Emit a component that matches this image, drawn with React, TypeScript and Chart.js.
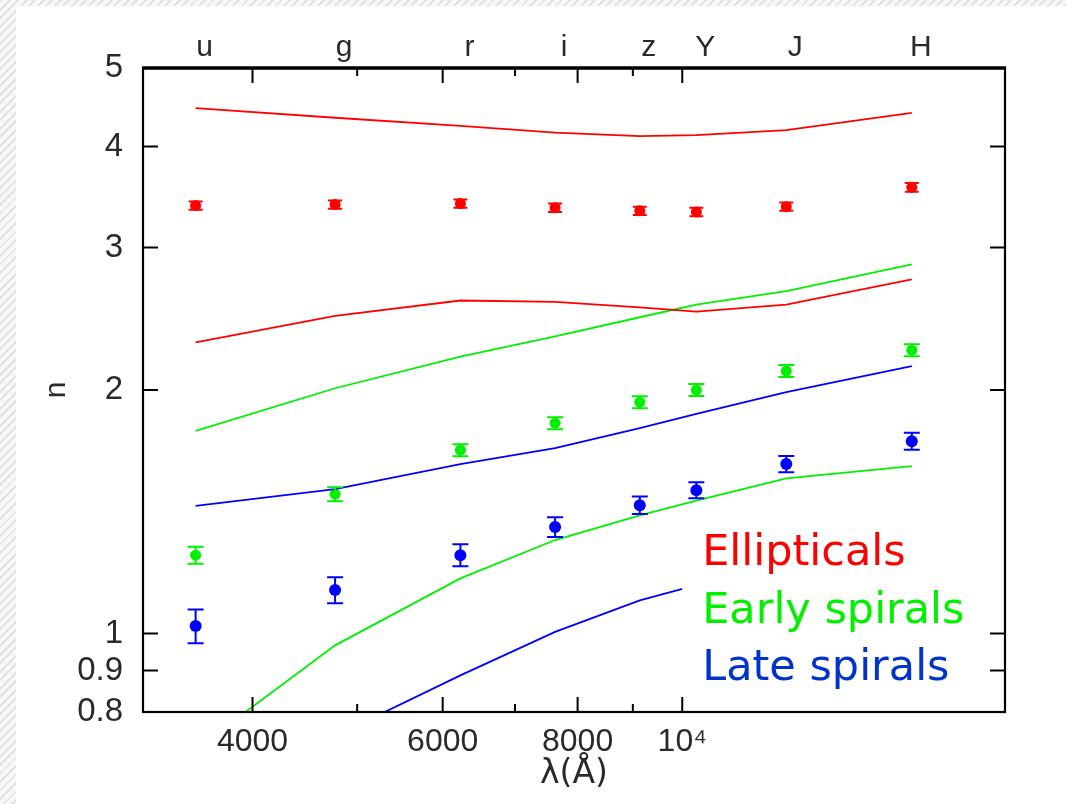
import React, { useEffect, useRef } from "react";
import { Chart, registerables } from "chart.js";

Chart.register(...registerables);

// ---- data ----
const bands = ["u", "g", "r", "i", "z", "Y", "J", "H"];
const wavelengths = [3543, 4770, 6231, 7625, 9134, 10305, 12483, 16313];

const ellipticalModelHigh = [4.46, 4.34, 4.24, 4.16, 4.12, 4.13, 4.19, 4.4];
const ellipticalModelLow = [2.29, 2.47, 2.58, 2.57, 2.53, 2.5, 2.55, 2.74];
const ellipticalObs = [3.38, 3.39, 3.4, 3.36, 3.33, 3.32, 3.37, 3.56];
const ellipticalErr = [0.04, 0.04, 0.04, 0.04, 0.04, 0.04, 0.04, 0.045];

const earlyModelHigh = [1.78, 2.01, 2.2, 2.33, 2.46, 2.55, 2.65, 2.86];
const earlyModelLow = [0.72, 0.967, 1.17, 1.305, 1.4, 1.46, 1.555, 1.61];
const earlyObs = [1.25, 1.487, 1.685, 1.82, 1.932, 2.0, 2.111, 2.24];
const earlyErr = [0.03, 0.03, 0.029, 0.031, 0.033, 0.034, 0.036, 0.038];

const lateModelHigh = [1.438, 1.508, 1.62, 1.695, 1.795, 1.868, 1.988, 2.141];
const lateModelLow = [0.62, 0.747, 0.888, 1.005, 1.099, 1.148, 1.23, 1.33];
const lateObs = [1.022, 1.132, 1.25, 1.354, 1.441, 1.504, 1.62, 1.729];
const lateErr = [0.049, 0.042, 0.039, 0.038, 0.036, 0.034, 0.037, 0.042];

const yTicks = [0.8, 0.9, 1, 2, 3, 4, 5];
const xMajorTicks = [4000, 6000, 8000, 10000];
const xMajorLabels = ["4000", "6000", "8000", "10⁴"];
const xMinorTicks = [5000, 7000, 9000];
const xMin = 3167;
const xMax = 19900;
const yMin = 0.8;
const yMax = 5;

const legendLabels = ["Ellipticals", "Early spirals", "Late spirals"];

const RED = "#ff0000";
const GREEN = "#00f000";
const BLUE = "#0000ff";
const legendColors = ["#ff0000", "#00f000", "#0033cc"];

const AXIS_FONT = "'Liberation Sans', Arial, sans-serif";
const TEXT_COLOR = "#2a2a2a";

const pts = (vals: number[]) => vals.map((v, i) => ({ x: wavelengths[i], y: v }));

const lineDs = (vals: number[], color: string) => ({
  data: pts(vals),
  borderColor: color,
  backgroundColor: color,
  borderWidth: 1.8,
  pointRadius: 0,
  tension: 0,
  showLine: true,
});

const pointDs = (vals: number[], color: string, r: number) => ({
  data: pts(vals),
  borderColor: color,
  backgroundColor: color,
  showLine: false,
  pointRadius: r,
  pointBorderWidth: 0,
  pointBackgroundColor: color,
});

const decorPlugin = {
  id: "decor",
  afterDatasetsDraw(chart: any) {
    const { ctx, chartArea: a, scales } = chart;
    const xs = scales.x;
    const ys = scales.y;
    ctx.save();
    // error bars
    const groups: [number[], number[], string, number][] = [
      [ellipticalObs, ellipticalErr, RED, 7],
      [earlyObs, earlyErr, GREEN, 8],
      [lateObs, lateErr, BLUE, 8],
    ];
    groups.forEach(([vals, errs, color, cap]) => {
      ctx.strokeStyle = color;
      ctx.lineWidth = 2;
      vals.forEach((v, i) => {
        const px = xs.getPixelForValue(wavelengths[i]);
        const y1 = ys.getPixelForValue(v - errs[i]);
        const y2 = ys.getPixelForValue(v + errs[i]);
        ctx.beginPath();
        ctx.moveTo(px, y1);
        ctx.lineTo(px, y2);
        ctx.moveTo(px - cap, y1);
        ctx.lineTo(px + cap, y1);
        ctx.moveTo(px - cap, y2);
        ctx.lineTo(px + cap, y2);
        ctx.stroke();
      });
    });
    // legend box (white, covers lines)
    const w = a.right - a.left;
    const h = a.bottom - a.top;
    const bx = a.left + w * 0.6255;
    const by = a.top + h * 0.705;
    const bw = w * 0.34;
    const bh = h * 0.272;
    ctx.fillStyle = "#ffffff";
    ctx.fillRect(bx, by, bw, bh);
    ctx.font = "43px 'DejaVu Sans', sans-serif";
    ctx.textAlign = "left";
    ctx.textBaseline = "alphabetic";
    legendLabels.forEach((t, i) => {
      ctx.fillStyle = legendColors[i];
      ctx.fillText(t, bx + 20, by + 43 + i * 57.5);
    });
    ctx.restore();
  },
  afterDraw(chart: any) {
    const { ctx, chartArea: a, scales } = chart;
    const xs = scales.x;
    const ys = scales.y;
    ctx.save();
    ctx.strokeStyle = "#000";
    ctx.lineWidth = 2;
    ctx.beginPath();
    // y ticks left & right
    yTicks.forEach((v) => {
      const py = ys.getPixelForValue(v);
      ctx.moveTo(a.left, py);
      ctx.lineTo(a.left + 15, py);
      ctx.moveTo(a.right, py);
      ctx.lineTo(a.right - 15, py);
    });
    xMajorTicks.forEach((v) => {
      const px = xs.getPixelForValue(v);
      ctx.moveTo(px, a.bottom);
      ctx.lineTo(px, a.bottom - 15);
      ctx.moveTo(px, a.top);
      ctx.lineTo(px, a.top + 15);
    });
    xMinorTicks.forEach((v) => {
      const px = xs.getPixelForValue(v);
      ctx.moveTo(px, a.bottom);
      ctx.lineTo(px, a.bottom - 8);
      ctx.moveTo(px, a.top);
      ctx.lineTo(px, a.top + 8);
    });
    ctx.stroke();
    ctx.lineWidth = 2.2;
    ctx.strokeRect(a.left, a.top, a.right - a.left, a.bottom - a.top);
    ctx.lineWidth = 3.5;
    ctx.beginPath();
    ctx.moveTo(a.left - 1, a.top);
    ctx.lineTo(a.right + 1, a.top);
    ctx.stroke();
    ctx.restore();
  },
};

export default function App() {
  const ref = useRef<HTMLCanvasElement | null>(null);
  useEffect(() => {
    if (!ref.current) return;
    const chart = new Chart(ref.current, {
      type: "line",
      data: {
        datasets: [
          lineDs(ellipticalModelHigh, RED),
          lineDs(ellipticalModelLow, RED),
          lineDs(earlyModelHigh, GREEN),
          lineDs(earlyModelLow, GREEN),
          lineDs(lateModelHigh, BLUE),
          lineDs(lateModelLow, BLUE),
          pointDs(ellipticalObs, RED, 5.5),
          pointDs(earlyObs, GREEN, 5.5),
          pointDs(lateObs, BLUE, 6),
        ] as any,
      },
      options: {
        animation: false,
        responsive: true,
        maintainAspectRatio: false,
        layout: { padding: { left: 0, right: 61, top: 0, bottom: 0 } },
        plugins: { legend: { display: false }, tooltip: { enabled: false } },
        scales: {
          x: {
            type: "logarithmic",
            position: "bottom",
            min: xMin,
            max: xMax,
            afterBuildTicks: (s: any) => {
              s.ticks = xMajorTicks.map((v) => ({ value: v }));
            },
            afterFit: (s: any) => {
              s.height = 92;
            },
            ticks: {
              autoSkip: false,
              maxRotation: 0,
              padding: 11,
              color: TEXT_COLOR,
              font: { family: AXIS_FONT, size: 32 },
              callback: (v: any) => {
                const i = xMajorTicks.indexOf(Number(v));
                return i >= 0 ? xMajorLabels[i] : "";
              },
            },
            grid: { display: false, drawTicks: false },
            border: { display: false },
            title: {
              display: true,
              text: "λ(Å)",
              color: TEXT_COLOR,
              font: { family: "'DejaVu Sans', sans-serif", size: 33 },
              padding: { top: 0, bottom: 10 },
            },
          },
          x2: {
            type: "logarithmic",
            position: "top",
            min: xMin,
            max: xMax,
            afterBuildTicks: (s: any) => {
              s.ticks = wavelengths.map((v) => ({ value: v }));
            },
            afterFit: (s: any) => {
              s.height = 68;
            },
            ticks: {
              autoSkip: false,
              maxRotation: 0,
              padding: 2,
              labelOffset: 9,
              color: TEXT_COLOR,
              font: { family: AXIS_FONT, size: 30 },
              callback: (v: any) => {
                const i = wavelengths.indexOf(Number(v));
                return i >= 0 ? bands[i] : "";
              },
            },
            grid: { display: false, drawTicks: false },
            border: { display: false },
          },
          y: {
            type: "logarithmic",
            position: "left",
            min: yMin,
            max: yMax,
            afterBuildTicks: (s: any) => {
              s.ticks = yTicks.map((v) => ({ value: v }));
            },
            afterFit: (s: any) => {
              s.width = 143;
            },
            ticks: {
              autoSkip: false,
              padding: 20,
              color: TEXT_COLOR,
              font: { family: AXIS_FONT, size: 33 },
              callback: (v: any) => String(v),
            },
            grid: { display: false, drawTicks: false },
            border: { display: false },
            title: {
              display: true,
              text: "n",
              color: TEXT_COLOR,
              font: { family: AXIS_FONT, size: 30 },
              padding: { top: 39, bottom: 0 },
            },
          },
        },
      } as any,
      plugins: [decorPlugin],
    });
    return () => chart.destroy();
  }, []);

  return (
    <div
      style={{
        position: "absolute",
        left: 0,
        top: 0,
        width: 1066,
        height: 804,
        overflow: "hidden",
        background:
          "repeating-linear-gradient(135deg, #e2e2e2 0px, #e2e2e2 2px, #f7f7f7 2px, #f7f7f7 6px)",
      }}
    >
      <div
        style={{
          position: "absolute",
          left: 16,
          top: 6,
          right: 0,
          bottom: 0,
          background: "#ffffff",
        }}
      />
      <div style={{ position: "absolute", left: 0, top: 0, width: 1066, height: 804 }}>
        <canvas ref={ref} />
      </div>
    </div>
  );
}
